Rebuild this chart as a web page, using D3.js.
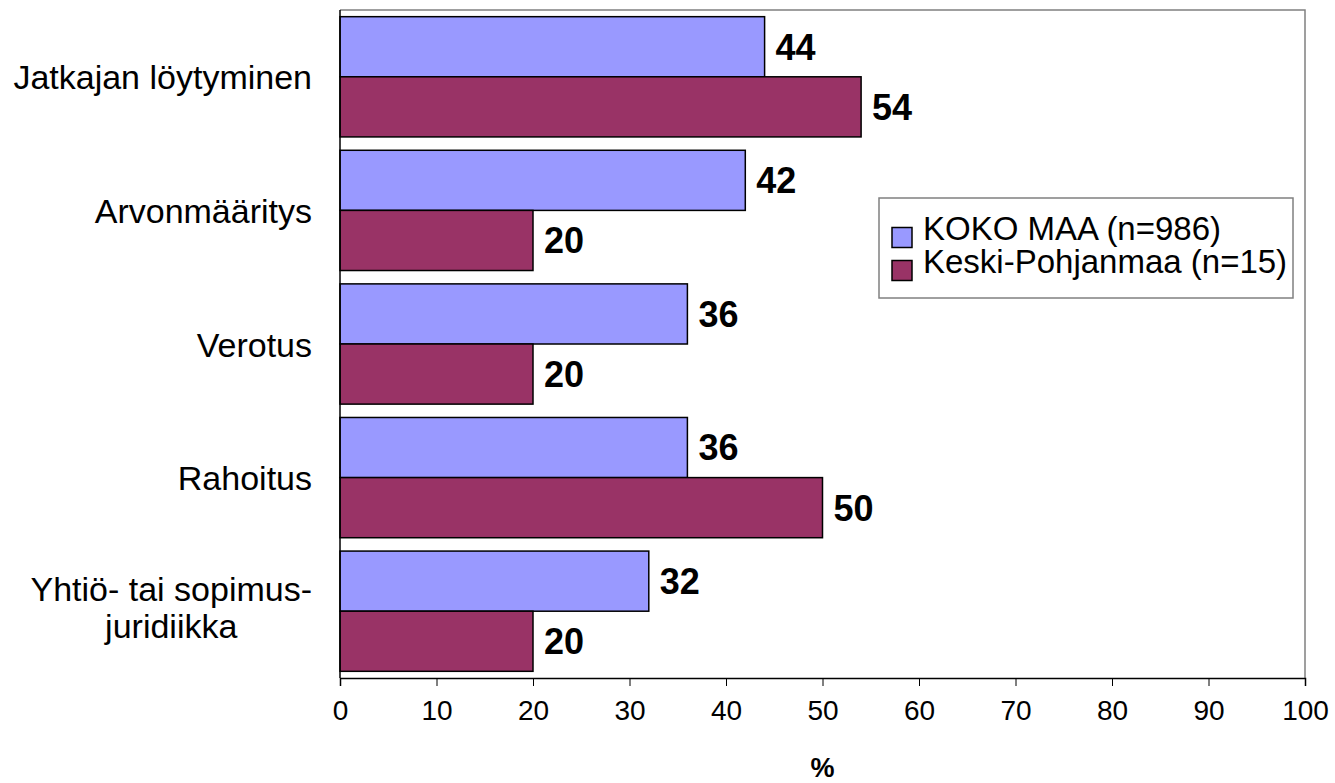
<!DOCTYPE html>
<html>
<head>
<meta charset="utf-8">
<script src="https://cdn.jsdelivr.net/npm/d3@7"></script>
<style>
  body { margin: 0; background: #fff; }
  text { font-family: Arial, "Liberation Sans", sans-serif; fill: #000; }
</style>
</head>
<body>
<svg id="chart"></svg>
<script>
// categories (top to bottom), lines split where the label wraps
var categories = [
    ["Jatkajan löytyminen"],
    ["Arvonmääritys"],
    ["Verotus"],
    ["Rahoitus"],
    ["Yhtiö- tai sopimus-", "juridiikka"]
];
var seriesNames = ["KOKO MAA (n=986)", "Keski-Pohjanmaa (n=15)"];
var kokoMaa = [44, 42, 36, 36, 32];
var keskiPohjanmaa = [54, 20, 20, 50, 20];
var xTicks = [0, 10, 20, 30, 40, 50, 60, 70, 80, 90, 100];

var colors = ["#9999ff", "#993366"];

var width = 1335, height = 783;
var plotLeft = 340, plotRight = 1305, plotTop = 10, plotBottom = 678;

var svg = d3.select("#chart")
    .attr("width", width)
    .attr("height", height);

var x = d3.scaleLinear().domain([0, 100]).range([plotLeft, plotRight]);

var y = d3.scaleBand()
    .domain(d3.range(categories.length))
    .range([plotTop, plotBottom])
    .paddingInner(0.1)
    .paddingOuter(0.05);

var ySub = d3.scaleBand()
    .domain([0, 1])
    .range([0, y.bandwidth()]);

// plot frame (grey top/right)
svg.append("path")
    .attr("d", "M" + plotLeft + "," + plotTop + "H" + plotRight + "V" + plotBottom)
    .attr("fill", "none")
    .attr("stroke", "#808080")
    .attr("stroke-width", 1.5);

var rows = categories.map(function (c, i) {
    return { i: i, values: [kokoMaa[i], keskiPohjanmaa[i]] };
});

var group = svg.selectAll(".grp")
    .data(rows)
    .enter().append("g")
    .attr("class", "grp")
    .attr("transform", function (d) {
        return "translate(0," + y(d.i) + ")";
    });

group.selectAll("rect")
    .data(function (d) {
        return d.values.map(function (v, s) { return { v: v, s: s }; });
    })
    .enter().append("rect")
    .attr("x", x(0))
    .attr("y", function (d) { return ySub(d.s); })
    .attr("width", function (d) { return x(d.v) - x(0); })
    .attr("height", ySub.bandwidth())
    .attr("fill", function (d) { return colors[d.s]; })
    .attr("stroke", "#000")
    .attr("stroke-width", 1.5);

group.selectAll(".val")
    .data(function (d) {
        return d.values.map(function (v, s) { return { v: v, s: s }; });
    })
    .enter().append("text")
    .attr("class", "val")
    .attr("x", function (d) { return x(d.v) + 11; })
    .attr("y", function (d) { return ySub(d.s) + ySub.bandwidth() / 2; })
    .attr("dy", "0.36em")
    .style("font-size", "36px")
    .style("font-weight", "bold")
    .text(function (d) { return d.v; });

// x axis
var xAxis = d3.axisBottom(x)
    .tickValues(xTicks)
    .tickSize(8)
    .tickPadding(14)
    .tickFormat(d3.format("d"));

var gx = svg.append("g")
    .attr("transform", "translate(0," + plotBottom + ")")
    .call(xAxis);
gx.select(".domain").attr("stroke", "#000").attr("stroke-width", 1.5);
gx.selectAll(".tick line").attr("stroke", "#000").attr("stroke-width", 1);
gx.selectAll(".tick text")
    .style("font-size", "28px")
    .style("font-family", "Arial, 'Liberation Sans', sans-serif")
    .attr("fill", "#000");

// y axis line
svg.append("line")
    .attr("x1", plotLeft).attr("x2", plotLeft)
    .attr("y1", plotTop).attr("y2", plotBottom)
    .attr("stroke", "#000")
    .attr("stroke-width", 1.5);

// category labels
var labelRight = 312;
var lineHeight = 37;
categories.forEach(function (lines, i) {
    var cy = y(i) + y.bandwidth() / 2;
    if (lines.length > 1) cy -= 4;
    var t = svg.append("text")
        .style("font-size", "34px");
    lines.forEach(function (ln, k) {
        t.append("tspan")
            .attr("y", cy + (k - (lines.length - 1) / 2) * lineHeight)
            .attr("dy", "0.37em")
            .text(ln);
    });
    if (lines.length == 1) {
        t.attr("text-anchor", "end");
        t.selectAll("tspan").attr("x", labelRight);
    } else {
        var maxW = 0;
        t.selectAll("tspan").each(function () {
            maxW = Math.max(maxW, this.getComputedTextLength());
        });
        t.attr("text-anchor", "middle");
        t.selectAll("tspan").attr("x", labelRight - maxW / 2);
    }
});

// axis title
svg.append("text")
    .attr("x", (plotLeft + plotRight) / 2)
    .attr("y", 777)
    .attr("text-anchor", "middle")
    .style("font-size", "27px")
    .style("font-weight", "bold")
    .text("%");

// legend
var legend = svg.append("g");
legend.append("rect")
    .attr("x", 879)
    .attr("y", 198)
    .attr("width", 414)
    .attr("height", 100)
    .attr("fill", "#fff")
    .attr("stroke", "#808080")
    .attr("stroke-width", 1.5);

var item = legend.selectAll(".item")
    .data(seriesNames)
    .enter().append("g")
    .attr("class", "item")
    .attr("transform", function (d, i) {
        return "translate(892," + (227.5 + i * 33) + ")";
    });

item.append("rect")
    .attr("width", 20)
    .attr("height", 20)
    .attr("fill", function (d, i) { return colors[i]; })
    .attr("stroke", "#000")
    .attr("stroke-width", 1.5);

item.append("text")
    .attr("x", 31)
    .attr("y", 12.5)
    .style("font-size", "33px")
    .text(function (d) { return d; });
</script>
</body>
</html>
